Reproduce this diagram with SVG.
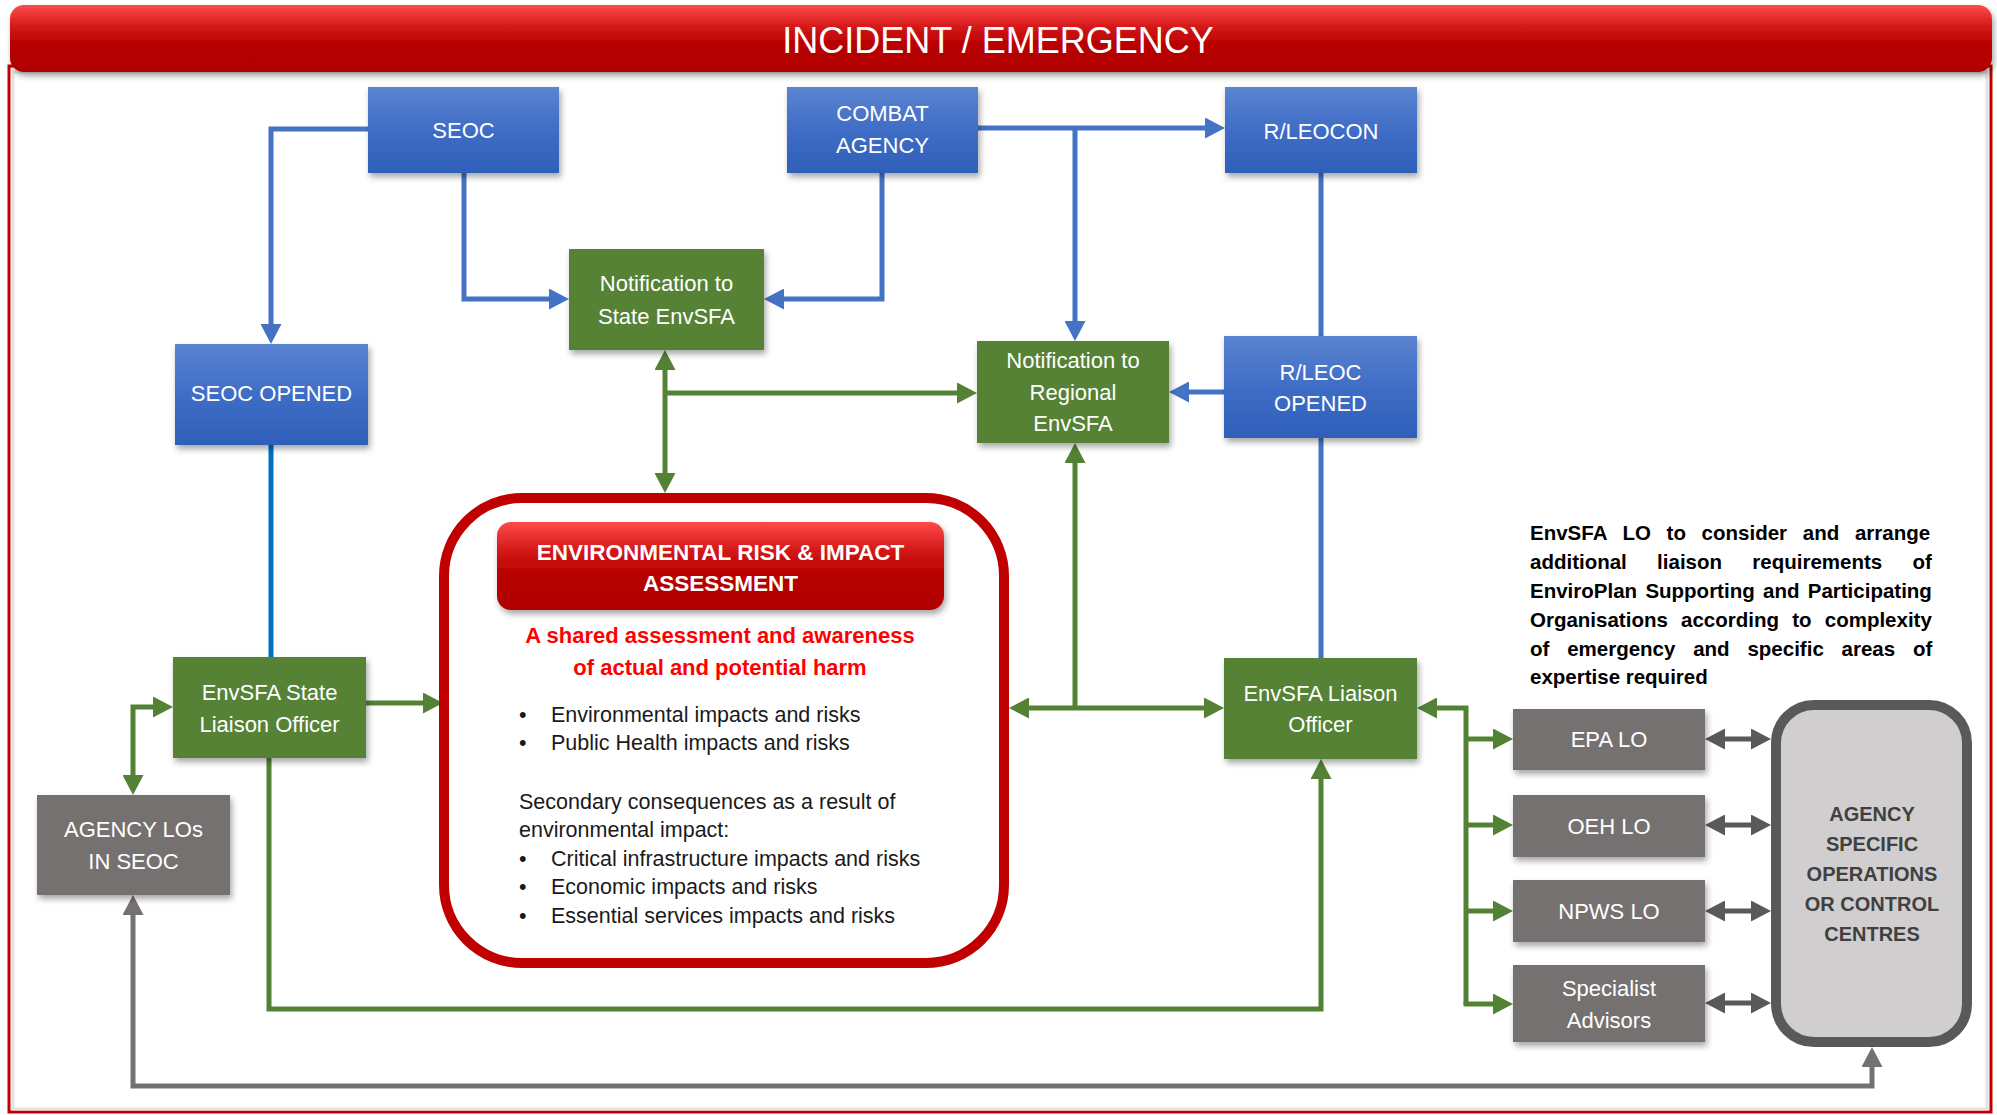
<svg xmlns="http://www.w3.org/2000/svg" width="1997" height="1115" viewBox="0 0 1997 1115">
<defs>
<linearGradient id="gBlue" x1="0" y1="0" x2="0" y2="1"><stop offset="0" stop-color="#5B84D0"/><stop offset="0.5" stop-color="#3F6DC6"/><stop offset="1" stop-color="#2E5FB9"/></linearGradient>
<linearGradient id="gRed" x1="0" y1="0" x2="0" y2="1"><stop offset="0" stop-color="#FF4B4B"/><stop offset="0.35" stop-color="#D01515"/><stop offset="0.6" stop-color="#B80000"/><stop offset="1" stop-color="#B00000"/></linearGradient>
<filter id="sh" x="-10%" y="-10%" width="125%" height="135%"><feDropShadow dx="2" dy="4" stdDeviation="3" flood-color="#000" flood-opacity="0.35"/></filter>
<marker id="aBlue" viewBox="0 0 20 21" refX="0" refY="10.5" markerWidth="20" markerHeight="21" markerUnits="userSpaceOnUse" orient="auto-start-reverse"><path d="M0,0 L20,10.5 L0,21 z" fill="#4472C4"/></marker>
<marker id="aGreen" viewBox="0 0 20 21" refX="0" refY="10.5" markerWidth="20" markerHeight="21" markerUnits="userSpaceOnUse" orient="auto-start-reverse"><path d="M0,0 L20,10.5 L0,21 z" fill="#548235"/></marker>
<marker id="aGray" viewBox="0 0 20 21" refX="0" refY="10.5" markerWidth="20" markerHeight="21" markerUnits="userSpaceOnUse" orient="auto-start-reverse"><path d="M0,0 L20,10.5 L0,21 z" fill="#767171"/></marker>
<marker id="aDark" viewBox="0 0 20 21" refX="0" refY="10.5" markerWidth="20" markerHeight="21" markerUnits="userSpaceOnUse" orient="auto-start-reverse"><path d="M0,0 L20,10.5 L0,21 z" fill="#595959"/></marker>
<style>
.blue{fill:url(#gBlue);filter:url(#sh)}
.green{fill:#548235;filter:url(#sh)}
.gray{fill:#767171;filter:url(#sh)}
.lbl{font-family:"Liberation Sans",Arial,sans-serif;font-size:22px;fill:#fff;text-anchor:middle}
.cb{fill:none;stroke:#4472C4;stroke-width:5}
.cg{fill:none;stroke:#548235;stroke-width:5}
.cy{fill:none;stroke:#767171;stroke-width:5}
.cd{fill:none;stroke:#595959;stroke-width:5}
.body{font-family:"Liberation Sans",Arial,sans-serif;font-size:21.5px;fill:#1a1a1a}
.para{font-family:"Liberation Sans",Arial,sans-serif;font-size:20.5px;font-weight:bold;fill:#000}
</style>
</defs>
<rect width="1997" height="1115" fill="#fff"/>

<!-- frame -->
<g id="frame">
<rect x="9" y="66" width="1982" height="1046" fill="none" stroke="#C00000" stroke-width="3"/>
<rect x="13" y="72" width="1974" height="1037" fill="none" stroke="#E3E3E3" stroke-width="3"/>
</g>

<!-- title -->
<g id="title">
<rect x="10" y="5" width="1982" height="67" rx="14" fill="url(#gRed)" filter="url(#sh)"/>
<text x="998" y="53" font-family="'Liberation Sans',Arial,sans-serif" font-size="36" fill="#fff" text-anchor="middle">INCIDENT / EMERGENCY</text>
</g>

<!-- connectors -->
<g id="connectors">
<path class="cb" d="M368,129 H271 V324" marker-end="url(#aBlue)"/>
<path class="cb" d="M464,173 V299 H549" marker-end="url(#aBlue)"/>
<path class="cb" d="M882,172 V299 H784" marker-end="url(#aBlue)"/>
<path class="cb" d="M978,128 H1205" marker-end="url(#aBlue)"/>
<path class="cb" d="M1075,128 V321" marker-end="url(#aBlue)"/>
<path class="cb" d="M1321,173 V336"/>
<path class="cb" d="M1224,392 H1189" marker-end="url(#aBlue)"/>
<path class="cb" d="M1321,438 V658"/>
<path fill="none" stroke="#0070C0" stroke-width="5" d="M271,445 V657"/>

<path class="cg" d="M665,370 V473" marker-start="url(#aGreen)" marker-end="url(#aGreen)"/>
<path class="cg" d="M665,393 H957" marker-end="url(#aGreen)"/>
<path class="cg" d="M366,703 H423" marker-end="url(#aGreen)"/>
<path class="cg" d="M133,775 V707 H153" marker-start="url(#aGreen)" marker-end="url(#aGreen)"/>
<path class="cg" d="M269,758 V1009 H1321 V779" marker-end="url(#aGreen)"/>
<path class="cg" d="M1029,708 H1204" marker-start="url(#aGreen)" marker-end="url(#aGreen)"/>
<path class="cg" d="M1075,708 V463" marker-end="url(#aGreen)"/>
<path class="cg" d="M1466,1004 V708 H1437" marker-end="url(#aGreen)"/>
<path class="cg" d="M1466,739 H1493" marker-end="url(#aGreen)"/>
<path class="cg" d="M1466,825 H1493" marker-end="url(#aGreen)"/>
<path class="cg" d="M1466,911 H1493" marker-end="url(#aGreen)"/>
<path class="cg" d="M1463.5,1004 H1493" marker-end="url(#aGreen)"/>

<path class="cy" d="M133,915 V1086 H1872 V1067" marker-start="url(#aGray)" marker-end="url(#aGray)"/>

<path class="cd" d="M1725,739 H1751" marker-start="url(#aDark)" marker-end="url(#aDark)"/>
<path class="cd" d="M1725,825 H1751" marker-start="url(#aDark)" marker-end="url(#aDark)"/>
<path class="cd" d="M1725,911 H1751" marker-start="url(#aDark)" marker-end="url(#aDark)"/>
<path class="cd" d="M1725,1003 H1751" marker-start="url(#aDark)" marker-end="url(#aDark)"/>
</g>

<!-- nodes -->
<g id="seoc"><rect class="blue" x="368" y="87" width="191" height="86"/><text class="lbl" x="463.5" y="138">SEOC</text></g>
<g id="combat-agency"><rect class="blue" x="787" y="87" width="191" height="86"/><text class="lbl" x="882.5" y="121">COMBAT</text><text class="lbl" x="882.5" y="153">AGENCY</text></g>
<g id="rleocon"><rect class="blue" x="1225" y="87" width="192" height="86"/><text class="lbl" x="1321" y="139">R/LEOCON</text></g>
<g id="notif-state"><rect class="green" x="569" y="249" width="195" height="101"/><text class="lbl" x="666.5" y="291">Notification to</text><text class="lbl" x="666.5" y="324">State EnvSFA</text></g>
<g id="seoc-opened"><rect class="blue" x="175" y="344" width="193" height="101"/><text class="lbl" x="271.5" y="401">SEOC OPENED</text></g>
<g id="notif-regional"><rect class="green" x="977" y="341" width="192" height="102"/><text class="lbl" x="1073" y="368">Notification to</text><text class="lbl" x="1073" y="400">Regional</text><text class="lbl" x="1073" y="431">EnvSFA</text></g>
<g id="rleoc-opened"><rect class="blue" x="1224" y="336" width="193" height="102"/><text class="lbl" x="1320.5" y="380">R/LEOC</text><text class="lbl" x="1320.5" y="411">OPENED</text></g>
<g id="state-lo"><rect class="green" x="173" y="657" width="193" height="101"/><text class="lbl" x="269.5" y="700">EnvSFA State</text><text class="lbl" x="269.5" y="732">Liaison Officer</text></g>
<g id="agency-los"><rect class="gray" x="37" y="795" width="193" height="100"/><text class="lbl" x="133.5" y="837">AGENCY LOs</text><text class="lbl" x="133.5" y="869">IN SEOC</text></g>
<g id="liaison-officer"><rect class="green" x="1224" y="658" width="193" height="101"/><text class="lbl" x="1320.5" y="701">EnvSFA Liaison</text><text class="lbl" x="1320.5" y="732">Officer</text></g>
<g id="epa-lo"><rect class="gray" x="1513" y="709" width="192" height="61"/><text class="lbl" x="1609" y="747">EPA LO</text></g>
<g id="oeh-lo"><rect class="gray" x="1513" y="795" width="192" height="62"/><text class="lbl" x="1609" y="834">OEH LO</text></g>
<g id="npws-lo"><rect class="gray" x="1513" y="880" width="192" height="62"/><text class="lbl" x="1609" y="919">NPWS LO</text></g>
<g id="specialist"><rect class="gray" x="1513" y="965" width="192" height="77"/><text class="lbl" x="1609" y="996">Specialist</text><text class="lbl" x="1609" y="1028">Advisors</text></g>

<g id="agency-specific">
<rect x="1776" y="705" width="191" height="337" rx="38" fill="#D0CECE" stroke="#595959" stroke-width="10"/>
<g font-family="'Liberation Sans',Arial,sans-serif" font-size="20" font-weight="bold" fill="#404040" text-anchor="middle">
<text x="1872" y="821">AGENCY</text><text x="1872" y="851">SPECIFIC</text><text x="1872" y="881">OPERATIONS</text><text x="1872" y="911">OR CONTROL</text><text x="1872" y="941">CENTRES</text>
</g>
</g>

<g id="assessment">
<rect x="444" y="498" width="560" height="465" rx="78" fill="#fff" stroke="#C00000" stroke-width="10"/>
<rect x="497" y="522" width="447" height="88" rx="14" fill="url(#gRed)" filter="url(#sh)"/>
<g font-family="'Liberation Sans',Arial,sans-serif" font-size="22.5" font-weight="bold" fill="#fff" text-anchor="middle">
<text x="720.5" y="560">ENVIRONMENTAL RISK &amp; IMPACT</text><text x="720.5" y="591">ASSESSMENT</text>
</g>
<g font-family="'Liberation Sans',Arial,sans-serif" font-size="22" font-weight="bold" fill="#FF0000" text-anchor="middle">
<text x="720" y="643">A shared assessment and awareness</text><text x="720" y="675">of actual and potential harm</text>
</g>
<g class="body">
<text x="519" y="722">•</text><text x="551" y="722">Environmental impacts and risks</text>
<text x="519" y="750">•</text><text x="551" y="750">Public Health impacts and risks</text>
<text x="519" y="809">Secondary consequences as a result of</text>
<text x="519" y="837">environmental impact:</text>
<text x="519" y="866">•</text><text x="551" y="866">Critical infrastructure impacts and risks</text>
<text x="519" y="894">•</text><text x="551" y="894">Economic impacts and risks</text>
<text x="519" y="923">•</text><text x="551" y="923">Essential services impacts and risks</text>
</g>
</g>

<g id="note" class="para">
<text x="1530" y="540" word-spacing="10">EnvSFA LO to consider and arrange</text>
<text x="1530" y="569" word-spacing="24.6">additional liaison requirements of</text>
<text x="1530" y="598" word-spacing="2.6">EnviroPlan Supporting and Participating</text>
<text x="1530" y="627" word-spacing="7.5">Organisations according to complexity</text>
<text x="1530" y="656" word-spacing="12.1">of emergency and specific areas of</text>
<text x="1530" y="684">expertise required</text>
</g>
</svg>
